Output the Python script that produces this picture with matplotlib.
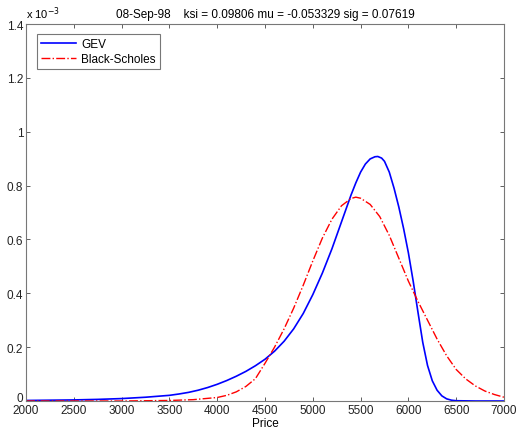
import matplotlib
matplotlib.use("Agg")
import matplotlib.pyplot as plt
import matplotlib.transforms as mtransforms

# Values (density in units of 1e-3)
gev_price = [2000, 2500, 2750, 3000, 3250, 3500, 3600, 3700, 3800, 3900, 4000,
             4100, 4200, 4300, 4400, 4500, 4600, 4700, 4800, 4900, 5000, 5100,
             5200, 5300, 5400, 5450, 5500, 5550, 5600, 5650, 5680, 5720, 5750,
             5800, 5850, 5900, 5950, 6000, 6050, 6100, 6150, 6200, 6250, 6300,
             6350, 6400, 6450, 6500, 6700, 7000]
gev_dens = [0.002, 0.004, 0.006, 0.009, 0.014, 0.021, 0.026, 0.032, 0.040, 0.050,
            0.062, 0.076, 0.092, 0.110, 0.131, 0.155, 0.185, 0.222, 0.268, 0.325,
            0.395, 0.475, 0.565, 0.665, 0.765, 0.810, 0.850, 0.880, 0.899, 0.907,
            0.908, 0.902, 0.890, 0.850, 0.790, 0.720, 0.640, 0.550, 0.445, 0.330,
            0.218, 0.132, 0.075, 0.040, 0.019, 0.008, 0.003, 0.001, 0.0, 0.0]

bs_price = [2000, 3000, 3500, 3750, 4000, 4100, 4200, 4300, 4400, 4500, 4600,
            4700, 4800, 4900, 5000, 5100, 5200, 5300, 5400, 5450, 5500, 5600,
            5700, 5800, 5900, 6000, 6100, 6200, 6300, 6400, 6500, 6600, 6700,
            6800, 6900, 7000]
bs_dens = [0.0, 0.0, 0.002, 0.005, 0.013, 0.021, 0.034, 0.054, 0.083, 0.140, 0.200,
           0.268, 0.345, 0.430, 0.520, 0.605, 0.675, 0.725, 0.752, 0.757, 0.753,
           0.730, 0.685, 0.615, 0.530, 0.445, 0.370, 0.300, 0.230, 0.168, 0.117,
           0.082, 0.056, 0.037, 0.024, 0.014]

x_ticks = [2000, 2500, 3000, 3500, 4000, 4500, 5000, 5500, 6000, 6500, 7000]
y_ticks = [0, 0.2, 0.4, 0.6, 0.8, 1, 1.2, 1.4]
y_tick_labels = ["0", "0.2", "0.4", "0.6", "0.8", "1", "1.2", "1.4"]
title = "08-Sep-98    ksi = 0.09806 mu = -0.053329 sig = 0.07619"

plt.rcParams['font.family'] = ['Liberation Sans', 'DejaVu Sans']
fig = plt.figure(figsize=(5.17, 4.35), dpi=100)
ax = fig.add_axes([26/517, 33/435, 478/517, 377/435])

ax.plot(gev_price, gev_dens, color='#0000ff', lw=1.2, label='GEV')
ax.plot(bs_price, bs_dens, color='#ff0000', lw=1.0, ls='-.', label='Black-Scholes')

ax.set_xlim(2000, 7000)
ax.set_ylim(0, 1.4)
ax.set_xticks(x_ticks)
ax.set_xticklabels([str(t) for t in x_ticks], fontsize=8.5)
ax.set_yticks(y_ticks)
ax.set_yticklabels(y_tick_labels, fontsize=8.5)
ax.tick_params(direction='in', top=True, right=True, length=3, width=0.6,
               colors='#444444', labelcolor='#222222', pad=2)
for s in ax.spines.values():
    s.set_color('#777777')
    s.set_linewidth(0.8)

# nudge the "0" y label up a little so it does not collide with "2000"
zero_lbl = ax.get_yticklabels()[0]
zero_lbl.set_transform(zero_lbl.get_transform() +
                       mtransforms.ScaledTranslation(0, 3/72, fig.dpi_scale_trans))

ax.set_xlabel('Price', fontsize=8.5, labelpad=1)
ax.set_title(title, fontsize=8.5, pad=5)
ax.text(0.0, 1.008, r'x 10$^{-3}$', transform=ax.transAxes, fontsize=8,
        ha='left', va='bottom')

leg = ax.legend(loc='upper left', fontsize=8.5, frameon=True, fancybox=False,
                edgecolor='#555555', borderpad=0.35, handlelength=3.0,
                handletextpad=0.4, labelspacing=0.25,
                bbox_to_anchor=(0.01, 0.99))
leg.get_frame().set_linewidth(0.8)

fig.savefig('out.png', dpi=100)
